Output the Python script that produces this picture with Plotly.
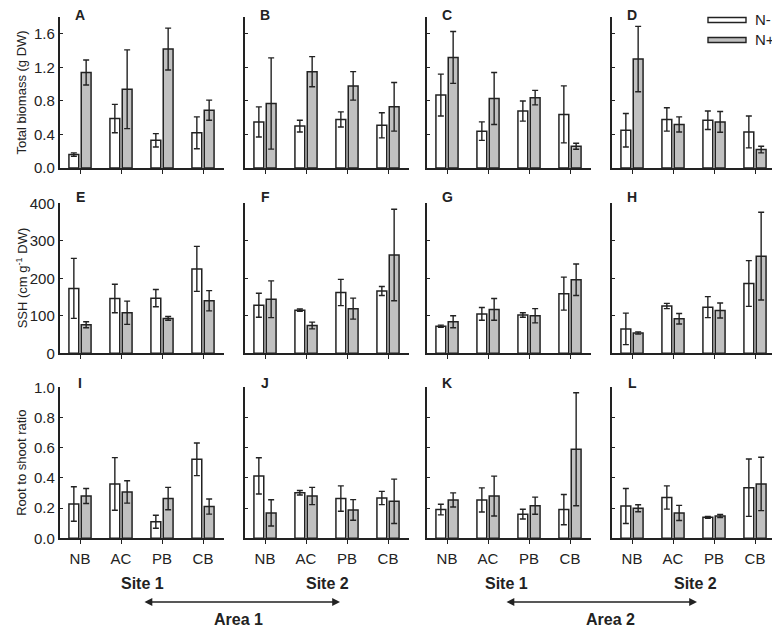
import plotly.graph_objects as go

# categories and panels
categories = ["NB", "AC", "PB", "CB"]
panel_letters = ["A", "B", "C", "D", "E", "F", "G", "H", "I", "J", "K", "L"]

# total biomass (g DW), one list per panel A-D
biomass_minus = [[0.16, 0.59, 0.33, 0.42], [0.55, 0.50, 0.58, 0.51],
                 [0.87, 0.44, 0.68, 0.64], [0.45, 0.58, 0.57, 0.43]]
biomass_minus_err = [[0.02, 0.17, 0.08, 0.19], [0.18, 0.07, 0.09, 0.15],
                     [0.25, 0.11, 0.12, 0.34], [0.20, 0.14, 0.11, 0.19]]
biomass_plus = [[1.14, 0.94, 1.42, 0.69], [0.77, 1.15, 0.98, 0.73],
                [1.32, 0.83, 0.84, 0.26], [1.30, 0.52, 0.55, 0.22]]
biomass_plus_err = [[0.15, 0.47, 0.25, 0.12], [0.545, 0.18, 0.17, 0.29],
                    [0.31, 0.31, 0.086, 0.036], [0.39, 0.09, 0.124, 0.04]]

# SSH (cm g-1 DW), panels E-H
ssh_minus = [[173, 146, 147, 225], [128, 115, 162, 166],
             [72, 105, 102, 159], [65, 126, 123, 186]]
ssh_minus_err = [[80, 38, 23, 60], [32, 3, 35, 12],
                 [3, 17, 6, 44], [42, 7, 28, 61]]
ssh_plus = [[76, 108, 93, 140], [144, 74, 119, 262],
            [84, 117, 100, 196], [54, 92, 114, 259]]
ssh_plus_err = [[8, 31, 5, 27], [49, 9, 28, 122],
                [16, 29, 19, 42], [3, 14, 20, 117]]

# root to shoot ratio, panels I-L
rs_minus = [[0.227, 0.36, 0.11, 0.523], [0.413, 0.302, 0.263, 0.267],
            [0.19, 0.254, 0.16, 0.19], [0.214, 0.27, 0.139, 0.335]]
rs_minus_err = [[0.114, 0.174, 0.043, 0.108], [0.12, 0.015, 0.084, 0.044],
                [0.035, 0.08, 0.032, 0.10], [0.116, 0.077, 0.006, 0.19]]
rs_plus = [[0.28, 0.307, 0.263, 0.21], [0.168, 0.28, 0.188, 0.245],
           [0.254, 0.28, 0.216, 0.59], [0.199, 0.168, 0.148, 0.36]]
rs_plus_err = [[0.05, 0.074, 0.074, 0.05], [0.087, 0.057, 0.068, 0.147],
               [0.047, 0.132, 0.057, 0.374], [0.023, 0.05, 0.01, 0.177]]

row_titles = ["Total biomass (g DW)", "SSH (cm g<sup>-1</sup> DW)", "Root to shoot ratio"]
row_ranges = [[0, 1.8], [0, 400], [0, 1.0]]
row_ticks = [[0, 0.4, 0.8, 1.2, 1.6], [0, 100, 200, 300, 400], [0, 0.2, 0.4, 0.6, 0.8, 1.0]]
row_fmt = [".1f", "d", ".1f"]
rows = [(biomass_minus, biomass_minus_err, biomass_plus, biomass_plus_err),
        (ssh_minus, ssh_minus_err, ssh_plus, ssh_plus_err),
        (rs_minus, rs_minus_err, rs_plus, rs_plus_err)]

W, H = 780, 628
OFF = 8  # page body margin
FONT = "Liberation Sans, Arial, sans-serif"
INK = "#222222"
GREY = "#c0c0c0"


def px(x):
    return (x - OFF) / W


def py(y):
    return (H - (y - OFF)) / H


col_left = [59.5, 244.5, 426.5, 611.5]   # screen px
col_w = 164
row_top = [17.2, 203.3, 387.3]
row_bot = [168.0, 353.3, 538.3]
letter_y = [14.5, 197, 383]

fig = go.Figure()
annotations = []

for r in range(3):
    mn, mn_e, pl, pl_e = rows[r]
    for c in range(4):
        n = r * 4 + c + 1
        sx = "" if n == 1 else str(n)
        err_style = dict(type="data", thickness=1.4, width=3, color=INK)
        fig.add_trace(go.Bar(x=categories, y=mn[c], error_y=dict(array=mn_e[c], **err_style),
                             marker=dict(color="white", line=dict(color=INK, width=1.5)),
                             offsetgroup="m", name="N-", showlegend=False,
                             xaxis="x" + sx, yaxis="y" + sx))
        fig.add_trace(go.Bar(x=categories, y=pl[c], error_y=dict(array=pl_e[c], **err_style),
                             marker=dict(color=GREY, line=dict(color=INK, width=1.5)),
                             offsetgroup="p", name="N+", showlegend=False,
                             xaxis="x" + sx, yaxis="y" + sx))
        xd = [px(col_left[c]), px(col_left[c] + col_w)]
        yd = [py(row_bot[r]), py(row_top[r])]
        fig.layout["xaxis" + sx] = dict(
            domain=xd, anchor="y" + sx, type="category", range=[-0.5, 3.5],
            automargin=False,
            showline=True, linecolor=INK, linewidth=1.5, ticks="outside", ticklen=4,
            tickcolor=INK, tickwidth=1.2, showgrid=False, zeroline=False,
            showticklabels=(r == 2), ticklabelstandoff=2,
            tickfont=dict(family=FONT, size=15, color=INK))
        fig.layout["yaxis" + sx] = dict(
            domain=yd, anchor="x" + sx, range=row_ranges[r], tickvals=row_ticks[r],
            tickformat=row_fmt[r], automargin=False,
            showline=True, linecolor=INK, linewidth=1.5,
            ticks="inside", ticklen=4, tickcolor=INK, tickwidth=1.2,
            showgrid=False, zeroline=False, showticklabels=(c == 0),
            tickfont=dict(family=FONT, size=15, color=INK))
        annotations.append(dict(text="<b>" + panel_letters[n - 1] + "</b>",
                                xref="x" + sx, x=0, yref="paper",
                                y=py(letter_y[r]), xanchor="center", yanchor="middle",
                                showarrow=False,
                                font=dict(family=FONT, size=14, color=INK)))
    annotations.append(dict(text=row_titles[r], xref="paper", yref="paper",
                            x=px(22), y=py((row_top[r] + row_bot[r]) / 2),
                            xanchor="center", yanchor="middle",
                            textangle=-90, showarrow=False,
                            font=dict(family=FONT, size=13, color=INK)))

# site / area labels
for txt, lx, ly in [("Site 1", 142, 583), ("Site 2", 327, 583),
                    ("Site 1", 507, 583), ("Site 2", 695, 583),
                    ("Area 1", 238, 619), ("Area 2", 610, 619)]:
    annotations.append(dict(text="<b>" + txt + "</b>", xref="paper", yref="paper",
                            x=px(lx), y=py(ly), xanchor="center", yanchor="middle",
                            showarrow=False,
                            font=dict(family=FONT, size=16, color=INK)))

# double headed arrows
for x0, x1 in [(143, 340), (505, 697)]:
    annotations.append(dict(text="", xref="paper", yref="paper", x=px(x1),
                            y=py(602), ax=-(x1 - x0), ay=0, axref="pixel",
                            ayref="pixel", showarrow=True, arrowside="end+start",
                            arrowhead=2, arrowsize=1.2, arrowwidth=1.3, arrowcolor=INK))

# legend drawn by hand (flat boxes)
shapes = []
for lab, fill, ly in [("N-", "white", 20), ("N+", GREY, 40)]:
    shapes.append(dict(type="rect", xref="paper", yref="paper",
                       x0=px(708), x1=px(746), y0=py(ly + 2.5), y1=py(ly - 2.5),
                       fillcolor=fill, line=dict(color=INK, width=1.4)))
    annotations.append(dict(text=lab, xref="paper", yref="paper", x=px(753),
                            y=py(ly), xanchor="left", yanchor="middle", showarrow=False,
                            font=dict(family=FONT, size=15, color=INK)))

fig.update_layout(width=W, height=H, margin=dict(l=0, r=0, t=0, b=0),
                  paper_bgcolor="white", plot_bgcolor="white",
                  barmode="group", bargap=0.4, bargroupgap=0.2,
                  annotations=annotations, shapes=shapes,
                  font=dict(family=FONT, color=INK))

fig.write_html("out.html")
